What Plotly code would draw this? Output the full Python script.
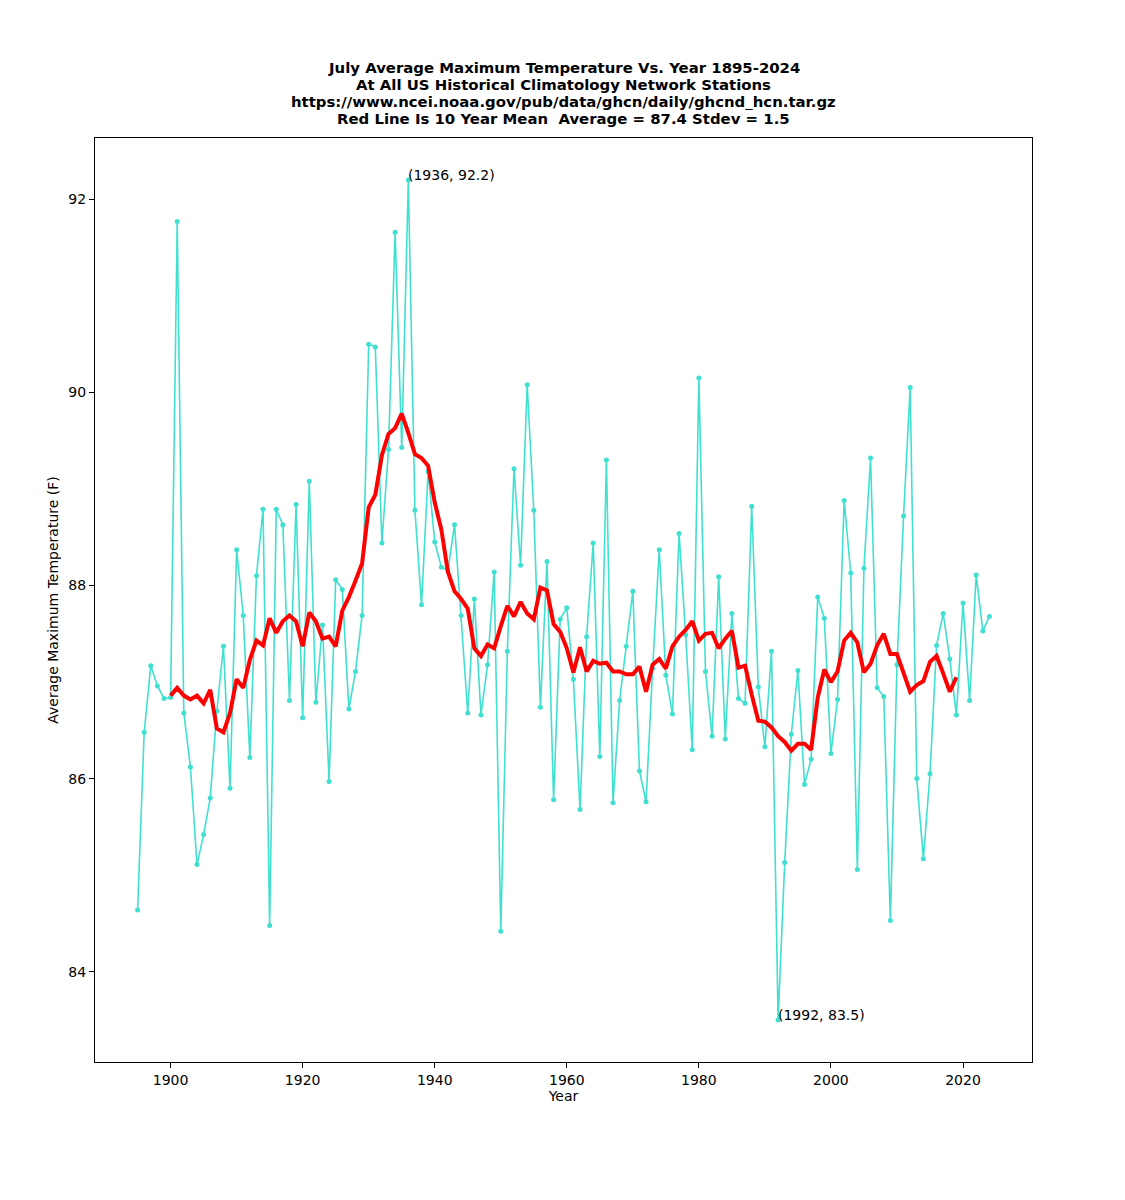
import plotly.graph_objects as go

# July average max temperature (F), all USHCN stations
years = list(range(1895, 2025))
temps = [
    84.64, 86.48, 87.17, 86.96, 86.83,                                  # 1895-1899
    86.84, 91.77, 86.68, 86.12, 85.11, 85.42, 85.80, 86.70, 87.37, 85.90,  # 1900s
    88.37, 87.69, 86.22, 88.10, 88.79, 84.48, 88.79, 88.63, 86.81, 88.84,  # 1910s
    86.63, 89.08, 86.79, 87.59, 85.97, 88.06, 87.96, 86.72, 87.11, 87.69,  # 1920s
    90.50, 90.47, 88.44, 89.41, 91.66, 89.43, 92.20, 88.78, 87.80, 89.18,  # 1930s
    88.45, 88.19, 88.16, 88.63, 87.69, 86.68, 87.86, 86.66, 87.18, 88.14,  # 1940s
    84.42, 87.32, 89.21, 88.21, 90.08, 88.78, 86.74, 88.25, 85.78, 87.65,  # 1950s
    87.77, 87.03, 85.68, 87.47, 88.44, 86.23, 89.30, 85.75, 86.81, 87.37,  # 1960s
    87.94, 86.08, 85.76, 87.14, 88.37, 87.07, 86.67, 88.54, 87.49, 86.30,  # 1970s
    90.15, 87.11, 86.44, 88.09, 86.41, 87.71, 86.83, 86.78, 88.82, 86.95,  # 1980s
    86.33, 87.32, 83.50, 85.13, 86.46, 87.12, 85.94, 86.20, 87.88, 87.66,  # 1990s
    86.26, 86.82, 88.88, 88.13, 85.06, 88.18, 89.32, 86.94, 86.85, 84.53,  # 2000s
    87.18, 88.72, 90.05, 86.00, 85.17, 86.05, 87.38, 87.71, 87.24, 86.66,  # 2010s
    87.82, 86.81, 88.11, 87.53, 87.68,                                  # 2020-2024
]

# red 10 year mean
mean_years = list(range(1900, 2020))
mean_temps = [
    86.86, 86.94, 86.86, 86.82, 86.86, 86.78, 86.92, 86.52, 86.48, 86.68,
    87.03, 86.94, 87.23, 87.43, 87.38, 87.66, 87.51, 87.63, 87.69, 87.63,
    87.37, 87.72, 87.63, 87.45, 87.47, 87.37, 87.74, 87.88, 88.05, 88.23,
    88.81, 88.94, 89.35, 89.57, 89.63, 89.78, 89.58, 89.36, 89.32, 89.24,
    88.86, 88.58, 88.14, 87.94, 87.86, 87.76, 87.35, 87.27, 87.39, 87.35,
    87.58, 87.79, 87.68, 87.83, 87.71, 87.65, 87.98, 87.95, 87.60, 87.52,
    87.35, 87.10, 87.36, 87.11, 87.22, 87.19, 87.20, 87.11, 87.11, 87.08,
    87.08, 87.16, 86.90, 87.18, 87.24, 87.14, 87.37, 87.47, 87.54, 87.63,
    87.43, 87.50, 87.51, 87.35, 87.45, 87.53, 87.15, 87.17, 86.87, 86.60,
    86.59, 86.53, 86.44, 86.38, 86.29, 86.36, 86.36, 86.30, 86.84, 87.13,
    87.00, 87.11, 87.43, 87.51, 87.41, 87.10, 87.19, 87.38, 87.50, 87.29,
    87.29, 87.09, 86.90, 86.97, 87.01, 87.21, 87.27, 87.09, 86.90, 87.05,
]

title_lines = [
    "July Average Maximum Temperature Vs. Year 1895-2024",
    "At All US Historical Climatology Network Stations",
    "https://www.ncei.noaa.gov/pub/data/ghcn/daily/ghcnd_hcn.tar.gz",
    "Red Line Is 10 Year Mean  Average = 87.4 Stdev = 1.5",
]

FONT = "DejaVu Sans"

fig = go.Figure()
fig.add_trace(go.Scatter(
    x=years, y=temps, mode="lines+markers",
    line=dict(color="#40E0D0", width=1.6),
    marker=dict(color="#40E0D0", size=5),
    showlegend=False,
))
fig.add_trace(go.Scatter(
    x=mean_years, y=mean_temps, mode="lines",
    line=dict(color="#FF0000", width=4),
    showlegend=False,
))

# max / min labels
i_max = temps.index(max(temps))
i_min = temps.index(min(temps))
for i in (i_max, i_min):
    fig.add_annotation(
        x=years[i], y=temps[i], text=f"({years[i]}, {temps[i]:.1f})",
        showarrow=False, xanchor="left", yanchor="bottom",
        xshift=-2, yshift=-5,
        font=dict(family=FONT, size=14, color="black"),
    )

# title as separate lines for tighter spacing (boxes kept short so they don't overlap)
for ypos, line in zip([1.0760, 1.0576, 1.0392, 1.0208], title_lines):
    fig.add_annotation(
        x=0.5, y=ypos, xref="paper", yref="paper", text=f"<b>{line}</b>",
        showarrow=False, xanchor="center", yanchor="middle",
        height=17, borderpad=0,
        font=dict(family=FONT, size=14.9, color="black"),
    )

xpad = 0.05 * (max(years) - min(years))
ypad = 0.05 * (max(temps) - min(temps))

axis_common = dict(
    showline=True, linecolor="black", linewidth=1, mirror=True,
    ticks="outside", ticklen=5, tickwidth=1, tickcolor="black",
    showgrid=False, zeroline=False,
    tickfont=dict(family=FONT, size=14, color="black"),
)

fig.update_xaxes(
    range=[min(years) - xpad, max(years) + xpad], dtick=20, tick0=1900,
    title=dict(text="Year", font=dict(family=FONT, size=14, color="black"), standoff=1),
    **axis_common,
)
fig.update_yaxes(
    range=[min(temps) - ypad, max(temps) + ypad], dtick=2, tick0=84,
    title=dict(text="Average Maximum Temperature (F)",
               font=dict(family=FONT, size=14, color="black"), standoff=6),
    **axis_common,
)

# margins allow for the 8px page margin of the html body
fig.update_layout(
    width=1125, height=1200,
    margin=dict(l=87, r=101, t=130, b=146),
    plot_bgcolor="white", paper_bgcolor="white",
    font=dict(family=FONT, size=14, color="black"),
)

fig.write_html("out.html")
